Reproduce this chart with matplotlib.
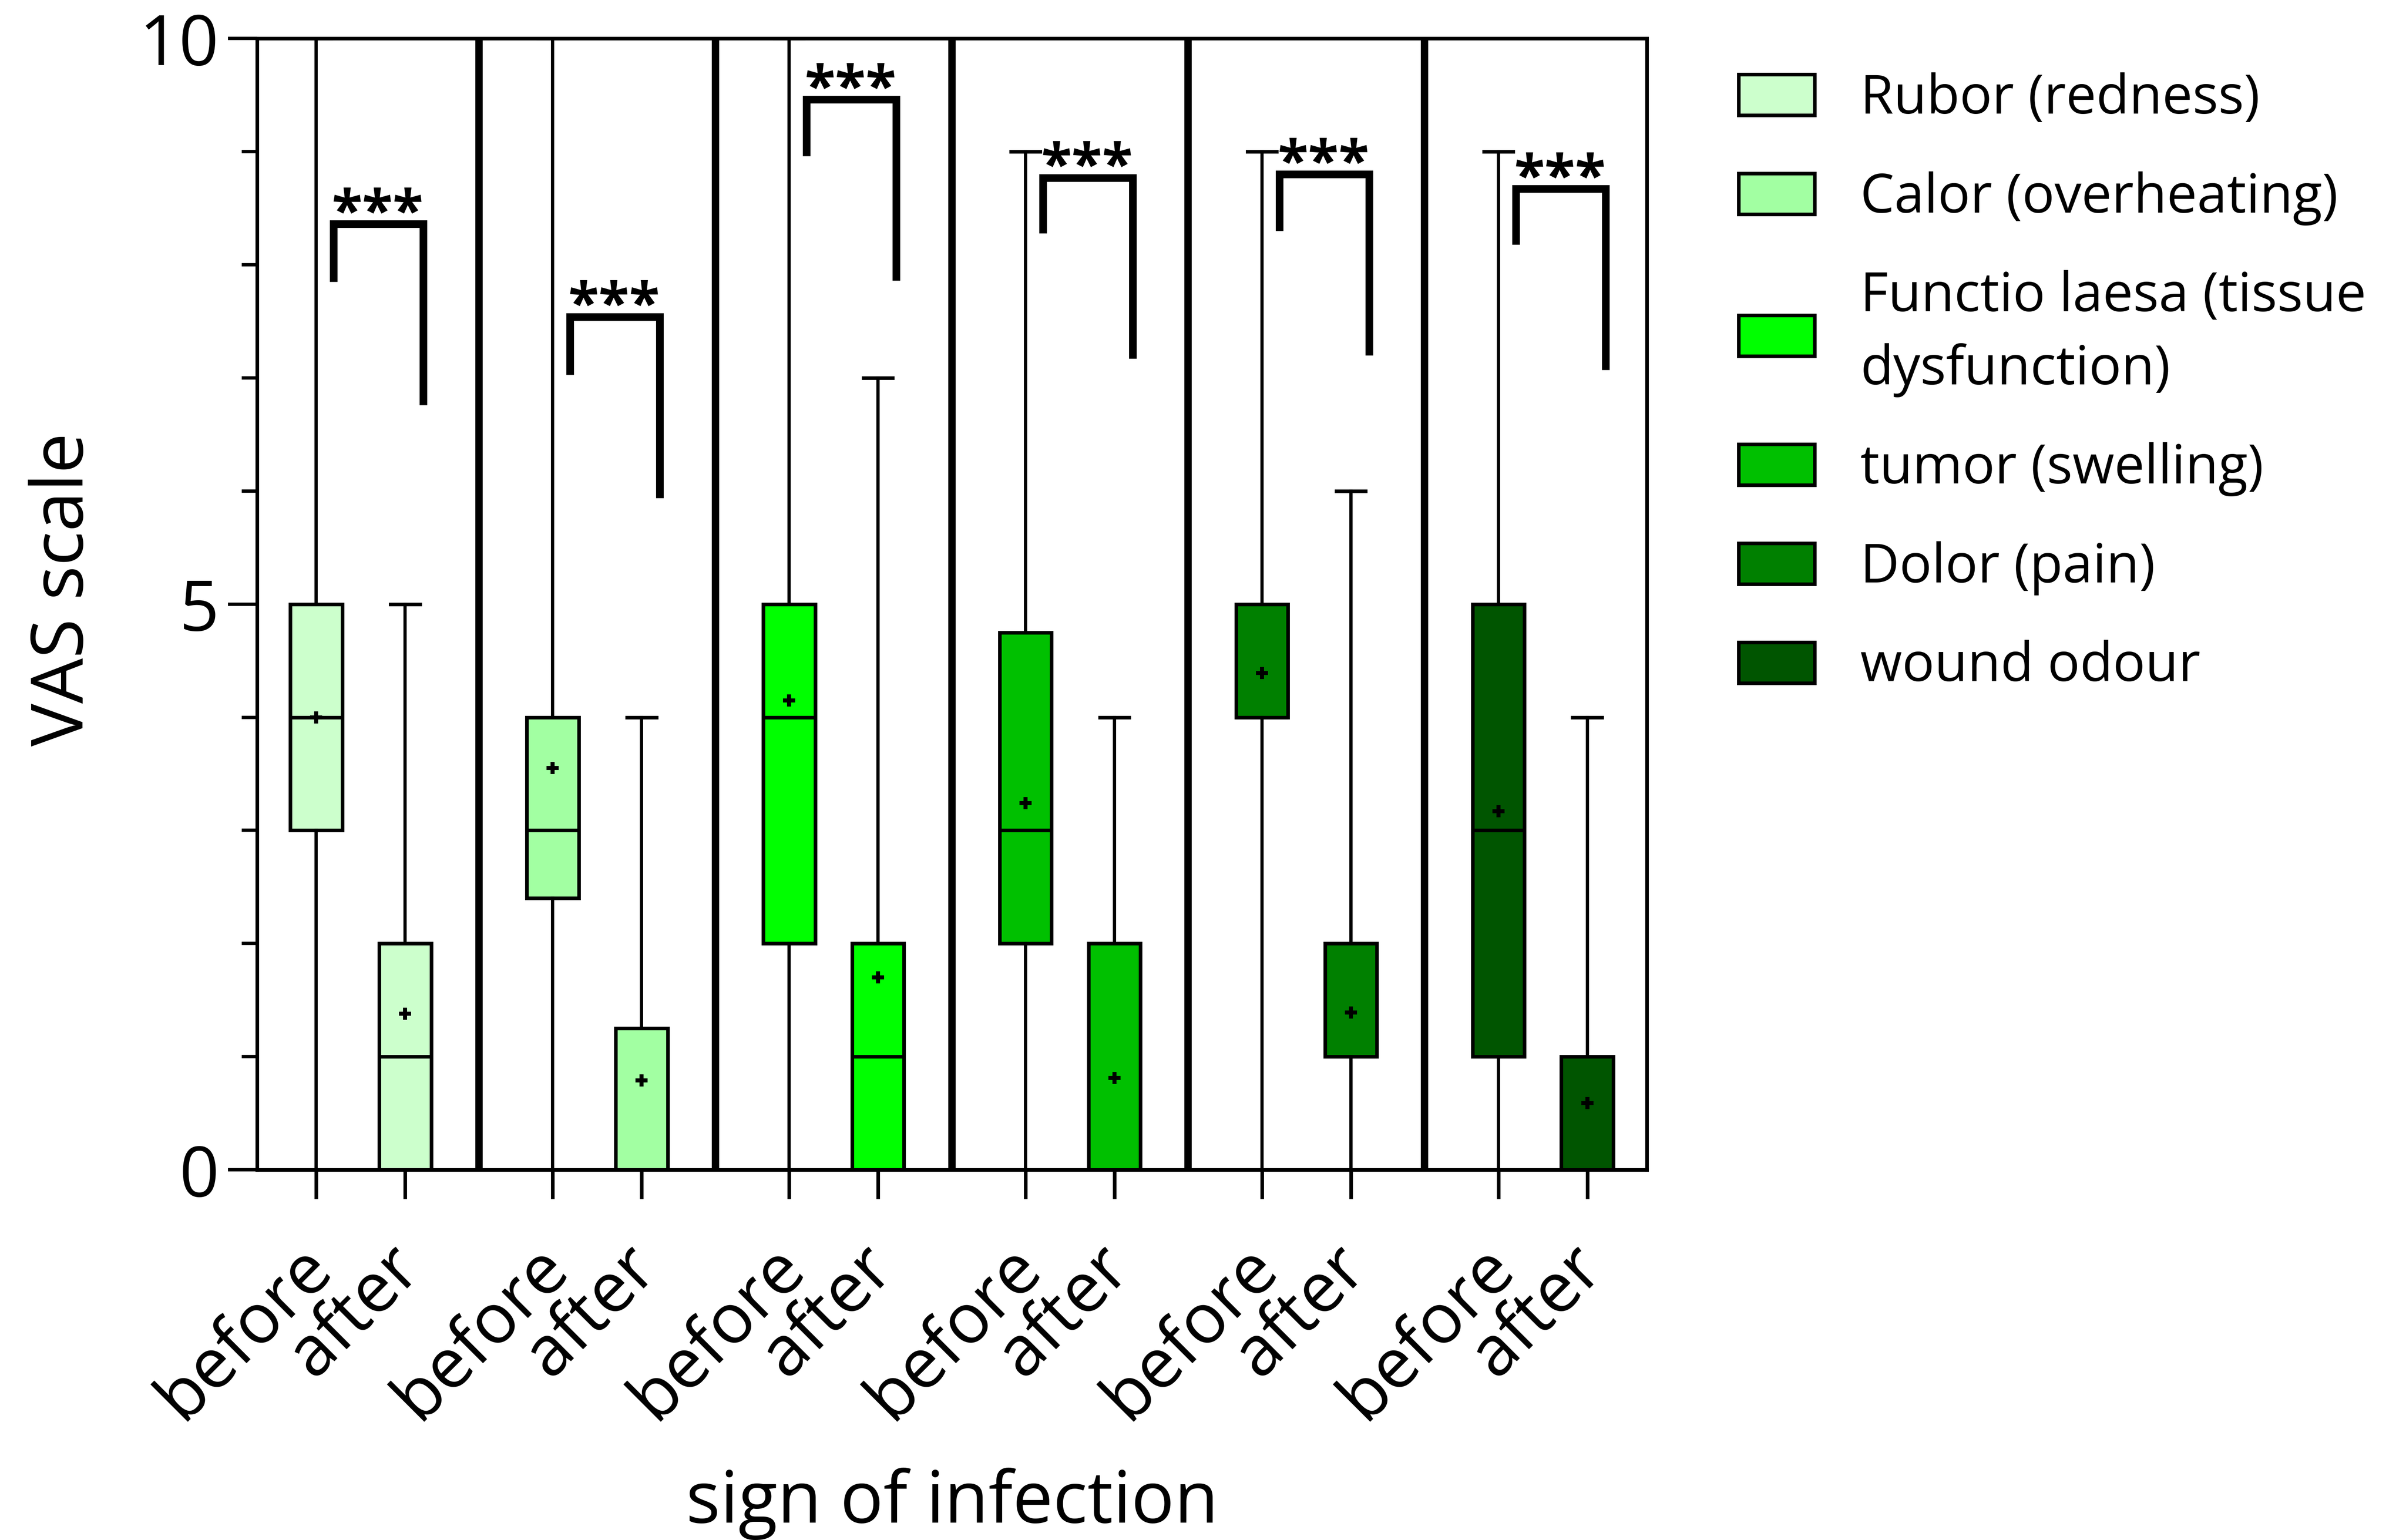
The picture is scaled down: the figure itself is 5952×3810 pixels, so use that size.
import matplotlib
matplotlib.use('Agg')
import matplotlib.pyplot as plt
import matplotlib.transforms as mtransforms
from matplotlib.patches import Patch
from matplotlib.ticker import MultipleLocator

plt.rcParams['font.family'] = ['Open Sans', 'DejaVu Sans']

# ---- data ----
signs = ['Rubor (redness)', 'Calor (overheating)',
         'Functio laesa (tissue\ndysfunction)', 'tumor (swelling)',
         'Dolor (pain)', 'wound odour']
colors = ['#CCFFCC', '#A2FFA2', '#00FF00', '#00C000', '#008000', '#005500']
phases = ['before', 'after']

before_whislo = [0, 0, 0, 0, 0, 0]
before_q1 = [3, 2.4, 2, 2, 4, 1]
before_med = [4, 3, 4, 3, 4, 3]
before_q3 = [5, 4, 5, 4.75, 5, 5]
before_whishi = [10, 10, 10, 9, 9, 9]
before_mean = [4.0, 3.55, 4.15, 3.24, 4.39, 3.17]

after_whislo = [0, 0, 0, 0, 0, 0]
after_q1 = [0, 0, 0, 0, 1, 0]
after_med = [1, 0, 1, 0, 1, 0]
after_q3 = [2, 1.25, 2, 2, 2, 1]
after_whishi = [5, 4, 7, 4, 6, 4]
after_mean = [1.38, 0.79, 1.70, 0.81, 1.39, 0.59]

# significance brackets (levels on VAS scale)
sig_label = ['***'] * 6
bracket_top = [8.36, 7.54, 9.46, 8.77, 8.80, 8.67]
bracket_left_end = [7.85, 7.03, 8.96, 8.28, 8.30, 8.18]
bracket_right_end = [6.76, 5.94, 7.86, 7.17, 7.20, 7.07]

# ---- figure ----
fig = plt.figure(figsize=(14.88, 9.525), dpi=400)
ax = fig.add_axes([0.1069, 0.2404, 0.5776, 0.7346])

offset = 0.188
stats, positions, faces, labels = [], [], [], []
for i in range(len(signs)):
    stats.append(dict(whislo=before_whislo[i], q1=before_q1[i], med=before_med[i],
                      q3=before_q3[i], whishi=before_whishi[i], mean=before_mean[i],
                      fliers=[]))
    positions.append(i - offset)
    faces.append(colors[i])
    labels.append(phases[0])
    stats.append(dict(whislo=after_whislo[i], q1=after_q1[i], med=after_med[i],
                      q3=after_q3[i], whishi=after_whishi[i], mean=after_mean[i],
                      fliers=[]))
    positions.append(i + offset)
    faces.append(colors[i])
    labels.append(phases[1])

bp = ax.bxp(stats, positions=positions, widths=0.22, capwidths=0.124,
            showmeans=True, showfliers=False, patch_artist=True,
            boxprops=dict(linewidth=1.6, edgecolor='black'),
            whiskerprops=dict(linewidth=1.45, color='black'),
            capprops=dict(linewidth=1.6, color='black'),
            medianprops=dict(linewidth=1.6, color='black'),
            meanprops=dict(marker='+', markeredgecolor='black',
                           markerfacecolor='black', markersize=5.5,
                           markeredgewidth=1.8))
for patch, c in zip(bp['boxes'], faces):
    patch.set_facecolor(c)

# group separators
for k in range(len(signs) - 1):
    ax.axvline(k + 0.5, color='black', lw=3.3, zorder=1)

# significance brackets
for i in range(len(signs)):
    xl, xr = i - 0.115, i + 0.265
    ax.plot([xl, xl, xr, xr],
            [bracket_left_end[i], bracket_top[i], bracket_top[i], bracket_right_end[i]],
            color='black', lw=3.4, solid_joinstyle='miter', solid_capstyle='butt',
            clip_on=False)
    ax.text(i + 0.072, bracket_top[i] - 0.05, sig_label[i], ha='center',
            va='baseline', fontsize=25, fontweight='bold')

ax.set_xlim(-0.438, 5.44)
ax.set_ylim(0, 10)
ax.set_yticks([0, 5, 10])
ax.yaxis.set_minor_locator(MultipleLocator(1))
ax.set_xticks(positions)
ax.set_xticklabels(labels)

ax.tick_params(axis='y', which='major', length=13, width=1.5, labelsize=31, pad=4)
ax.tick_params(axis='y', which='minor', length=6.8, width=1.5)
ax.tick_params(axis='x', which='major', length=13, width=1.6, labelsize=31, pad=26)
shift = mtransforms.ScaledTranslation(2 / 72, 0, fig.dpi_scale_trans)
for lab in ax.get_xticklabels():
    lab.set_rotation(45)
    lab.set_ha('right')
    lab.set_va('center')
    lab.set_rotation_mode('anchor')
    lab.set_transform(lab.get_transform() + shift)

for s in ax.spines.values():
    s.set_linewidth(1.6)

ax.set_ylabel('VAS scale', fontsize=32)
ax.yaxis.set_label_coords(-0.113, 0.513)
ax.set_xlabel('sign of infection', fontsize=32)
ax.xaxis.set_label_coords(0.5, -0.312)
ax.xaxis.label.set_va('baseline')

handles = [Patch(facecolor=c, edgecolor='black', lw=1.6) for c in colors]
leg = fig.legend(handles, signs, loc='upper left', bbox_to_anchor=(0.7226, 0.953),
                 frameon=False, fontsize=24, handlelength=1.41, handleheight=0.79,
                 handletextpad=0.85, labelspacing=0.83, borderpad=0, borderaxespad=0)
for t in leg.get_texts():
    t.set_linespacing(1.46)

fig.savefig('out.png', dpi=400)
